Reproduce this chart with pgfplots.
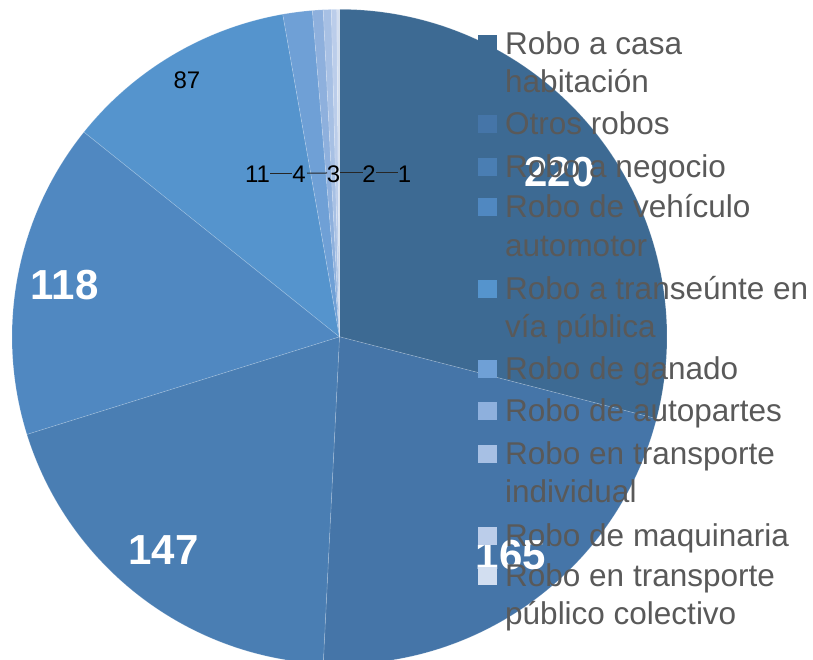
\documentclass[border=0pt]{standalone}
\usepackage{fontspec}
\setmainfont{Liberation Sans}
\usepackage{pgfplots}
\pgfplotsset{compat=1.18}

\definecolor{c1}{HTML}{3D6A93}
\definecolor{c2}{HTML}{4575A8}
\definecolor{c3}{HTML}{4A7EB3}
\definecolor{c4}{HTML}{5088C1}
\definecolor{c5}{HTML}{5594CD}
\definecolor{c6}{HTML}{6FA0D6}
\definecolor{c7}{HTML}{8EB0DD}
\definecolor{c8}{HTML}{A7C0E4}
\definecolor{c9}{HTML}{BBCDEA}
\definecolor{c10}{HTML}{D2DEF0}
\definecolor{legtext}{HTML}{595959}

% values, clockwise from 12 o'clock
\def\pievalues{220,165,147,118,87,11,4,3,2,1}
\def\cx{339.5}
\def\cy{323.2}
\def\R{327.5}

\newcommand\legline[2]{\node[anchor=base west, inner sep=0pt, text=legtext,
  font=\fontsize{31.5}{36}\selectfont] at (axis cs:505,{660-#1}) {#2};}
\newcommand\legsq[2]{\fill[#1] (axis cs:478,{660-#2+20}) rectangle (axis cs:497,{660-#2+2});}
\newcommand\biglab[3]{\node[inner sep=0pt, text=white,
  font=\fontsize{42}{46}\selectfont\bfseries] at (axis cs:#1,{660-#2}) {#3};}
\newcommand\smlab[3]{\node[inner sep=0pt, text=black,
  font=\fontsize{24}{26}\selectfont] at (axis cs:#1,{660-#2}) {#3};}

\begin{document}
\begin{tikzpicture}
% total and slice angles
\xdef\tot{0}
\foreach \v in \pievalues {\pgfmathsetmacro\t{\tot+\v}\xdef\tot{\t}}
\pgfmathsetmacro\dpu{360/\tot}
\xdef\dpu{\dpu}
\xdef\cum{0}
\foreach \v [count=\i] in \pievalues {
  \pgfmathsetmacro\a{90-\cum*\dpu}
  \pgfmathsetmacro\b{90-(\cum+\v)*\dpu}
  \expandafter\xdef\csname sa\i\endcsname{\a}
  \expandafter\xdef\csname ea\i\endcsname{\b}
  \pgfmathsetmacro\c{\cum+\v}\xdef\cum{\c}
}
\begin{axis}[
    x=1pt, y=1pt,
    xmin=0, xmax=813, ymin=0, ymax=660,
    hide axis, clip=false,
    anchor=origin, at={(0,0)},
  ]
  \pgfplotsinvokeforeach{1,...,10}{
    \fill[c#1, draw=white, draw opacity=0.22, line width=0.6pt]
      (axis cs:\cx,\cy) --
      (axis cs:{\cx+\R*cos(\csname sa#1\endcsname)},{\cy+\R*sin(\csname sa#1\endcsname)})
      arc[start angle=\csname sa#1\endcsname, end angle=\csname ea#1\endcsname, radius=\R pt]
      -- cycle;
  }
  % leader lines for the small slices
  \draw[black!85, line width=1pt] (axis cs:270,{660-173.5}) -- (axis cs:292,{660-173.5});
  \draw[black!85, line width=1pt] (axis cs:307,{660-173.2}) -- (axis cs:327,{660-173});
  \draw[black!85, line width=1pt] (axis cs:340,{660-172.7}) -- (axis cs:363,{660-172.7});
  \draw[black!85, line width=1pt] (axis cs:376,{660-172.5}) -- (axis cs:398,{660-172.5});
  \smlab{257.5}{173.8}{11}
  \smlab{299}{173.8}{4}
  \smlab{333.5}{173.8}{3}
  \smlab{369}{173.8}{2}
  \smlab{404.5}{173.8}{1}
  \smlab{187}{80}{87}
  % data labels
  \biglab{559.5}{172.5}{220}
  \biglab{511}{555.5}{165}
  \biglab{163.5}{550}{147}
  \biglab{64.5}{285}{118}
  % legend
  \legsq{c1}{55}   \legline{55}{Robo a casa}          \legline{92.7}{habitación}
  \legsq{c2}{135}  \legline{135}{Otros robos}
  \legsq{c3}{178}  \legline{178}{Robo a negocio}
  \legsq{c4}{218}  \legline{218}{Robo de vehículo}     \legline{257}{automotor}
  \legsq{c5}{300}  \legline{300}{Robo a transeúnte en} \legline{338}{vía pública}
  \legsq{c6}{380}  \legline{380}{Robo de ganado}
  \legsq{c7}{422}  \legline{422}{Robo de autopartes}
  \legsq{c8}{465}  \legline{465}{Robo en transporte}   \legline{503}{individual}
  \legsq{c9}{547}  \legline{547}{Robo de maquinaria}
  \legsq{c10}{587} \legline{587}{Robo en transporte}   \legline{625}{público colectivo}
  \coordinate (SW) at (axis cs:0,0);
  \coordinate (NE) at (axis cs:813,660);
\end{axis}
\pgfresetboundingbox
\path[use as bounding box] (SW) rectangle (NE);
\end{tikzpicture}
\end{document}
